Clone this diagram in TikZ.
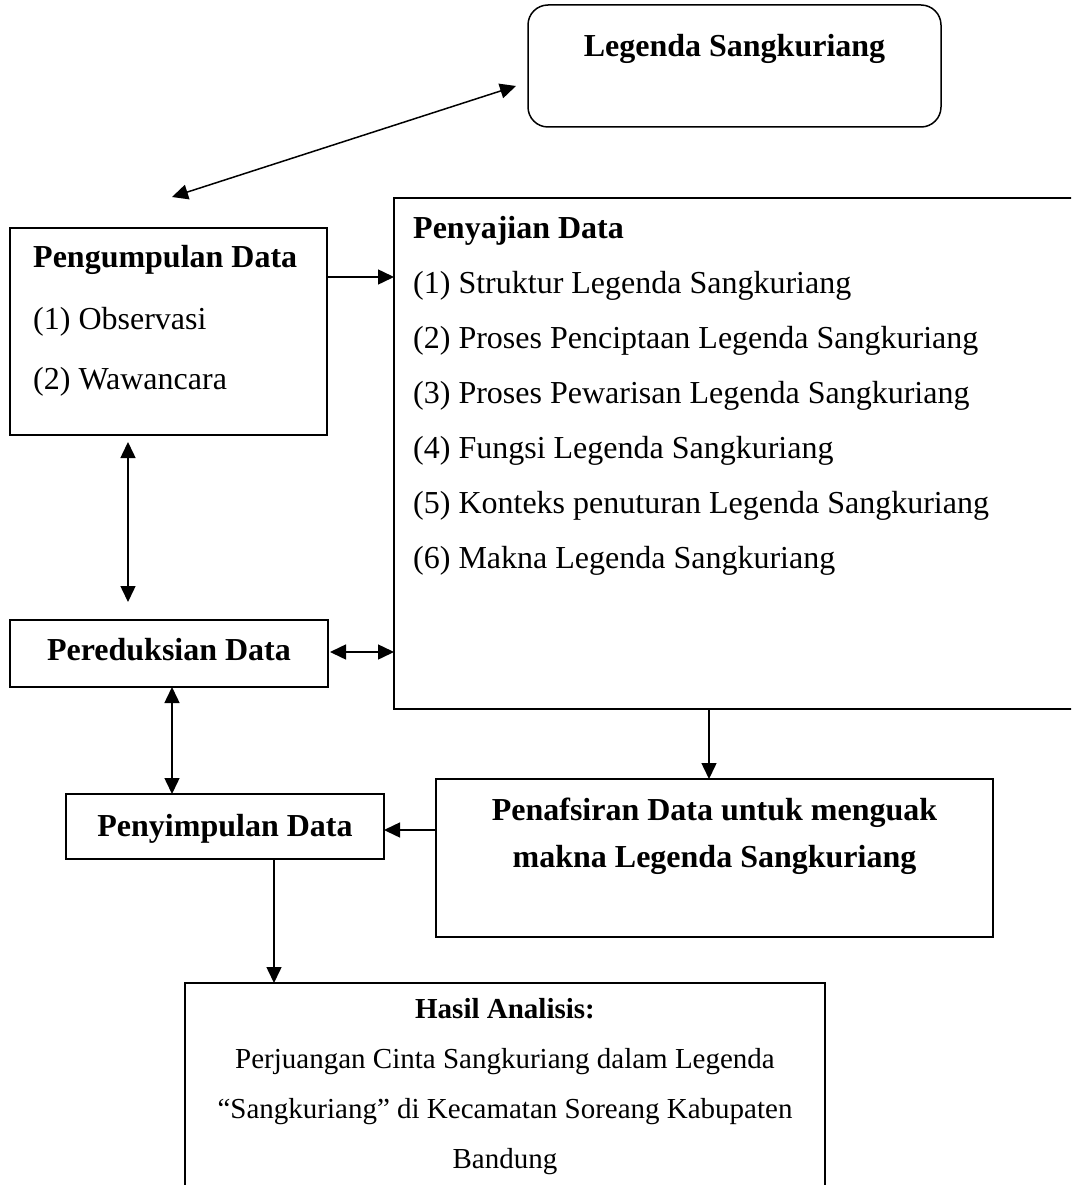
\documentclass[tikz,border=0pt]{standalone}
\usepackage{fontspec}
\setmainfont{Liberation Serif}
\usetikzlibrary{arrows.meta}
\begin{document}
\begin{tikzpicture}[x=1pt,y=-1pt,
  box/.style={draw, line width=1.5pt, inner sep=0pt, outer sep=0pt, anchor=north west},
  tip/.tip={Triangle[length=16pt,width=15pt]},
  arr/.style={line width=1.5pt, -tip},
  darr/.style={line width=1.5pt, tip-tip},
  bt/.style={font=\fontsize{32}{38}\selectfont\bfseries, inner sep=0pt},
  rt/.style={font=\fontsize{32}{38}\selectfont, inner sep=0pt, anchor=base west},
  ht/.style={font=\fontsize{29}{35}\selectfont, inner sep=0pt, anchor=base},
]
\clip (0,0) rectangle (1071,1185);
\fill[white] (0,0) rectangle (1071,1185);

% boxes
\node[box, rounded corners=20pt, minimum width=413pt, minimum height=122pt] (leg) at (528,5) {};
\node[box, minimum width=317pt, minimum height=207pt] (peng) at (10,228) {};
\node[box, minimum width=720pt, minimum height=511pt] (saji) at (394,198) {};
\node[box, minimum width=318pt, minimum height=67pt] (red) at (10,620) {};
\node[box, minimum width=318pt, minimum height=65pt] (simp) at (66,794) {};
\node[box, minimum width=557pt, minimum height=158pt] (tafsir) at (436,779) {};
\node[box, minimum width=640pt, minimum height=260pt] (hasil) at (185,983) {};

% texts
\node[bt, anchor=base] (legt) at (734.5,57) {Legenda Sangkuriang};

\node[bt, anchor=base west] (pengt) at (33,267) {Pengumpulan Data};
\node[rt] (peng1) at (33,329) {(1) Observasi};
\node[rt] (peng2) at (33,389) {(2) Wawancara};

\node[bt, anchor=base west] (sajit) at (413,238) {Penyajian Data};
\node[rt] (saji1) at (413,293) {(1) Struktur Legenda Sangkuriang};
\node[rt] (saji2) at (413,348) {(2) Proses Penciptaan Legenda Sangkuriang};
\node[rt] (saji3) at (413,403) {(3) Proses Pewarisan Legenda Sangkuriang};
\node[rt] (saji4) at (413,458) {(4) Fungsi Legenda Sangkuriang};
\node[rt] (saji5) at (413,513) {(5) Konteks penuturan Legenda Sangkuriang};
\node[rt] (saji6) at (413,568) {(6) Makna Legenda Sangkuriang};

\node[bt, anchor=base] (redt) at (169,660) {Pereduksian Data};
\node[bt, anchor=base] (simpt) at (225,836) {Penyimpulan Data};

\node[bt, anchor=base] (tafsir1) at (714.5,820) {Penafsiran Data untuk menguak};
\node[bt, anchor=base] (tafsir2) at (714.5,867) {makna Legenda Sangkuriang};

\node[ht, font=\fontsize{29}{35}\selectfont\bfseries] (hasilt) at (505,1018) {Hasil Analisis:};
\node[ht] (hasil1) at (505,1068) {Perjuangan Cinta Sangkuriang dalam Legenda};
\node[ht] (hasil2) at (505,1118) {“Sangkuriang” di Kecamatan Soreang Kabupaten};
\node[ht] (hasil3) at (505,1168) {Bandung};

% connectors
\coordinate (c1) at (172,197);
\coordinate (c2) at (516,86);
\draw[darr] (c1) -- (c2);

\coordinate (c3) at (327,277);
\draw[arr] (c3) -- (saji.west |- c3);

\coordinate (c4) at (128,442);
\coordinate (c5) at (128,602);
\draw[darr] (c4) -- (c5);

\coordinate (c6) at (330,652);
\draw[darr] (c6) -- (saji.west |- c6);

\coordinate (c7) at (172,687);
\draw[darr] (c7) -- (simp.north -| c7);

\coordinate (c8) at (709,709);
\draw[arr] (c8) -- (tafsir.north -| c8);

\coordinate (c9) at (436,830);
\draw[arr] (c9) -- (simp.east |- c9);

\coordinate (c10) at (274,859);
\draw[arr] (c10) -- (hasil.north -| c10);
\end{tikzpicture}
\end{document}
